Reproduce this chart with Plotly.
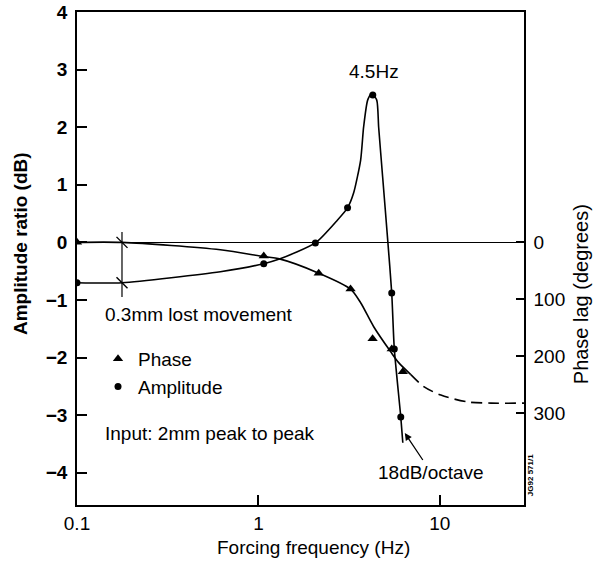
import numpy as np
import plotly.graph_objects as go

# ---------------- data ----------------
# measured points
amp_freq = [0.1, 1.07, 2.06, 3.1, 4.27, 5.43, 5.61, 6.09]          # Hz
amp_db = [-0.70, -0.37, -0.01, 0.60, 2.56, -0.88, -1.85, -3.03]      # dB

phase_freq = [0.1, 1.07, 2.15, 3.22, 4.26, 5.43, 6.25]               # Hz
phase_deg = [0, 24, 54, 82, 169, 187, 227]                           # degrees lag

# fitted curves
amp_curve_freq = [0.1, 0.177, 0.617, 1.07, 1.306, 2.06, 2.73, 3.1, 3.35, 3.66,
                  3.80, 4.00, 4.21, 4.49, 4.60, 4.84, 5.16, 5.43, 5.61, 6.09, 6.25]
amp_curve_db = [-0.70, -0.70, -0.51, -0.37, -0.29, -0.01, 0.39, 0.60, 0.86, 1.43,
                2.00, 2.47, 2.59, 2.47, 2.00, 1.13, 0.04, -0.88, -1.85, -3.03, -3.48]

phase_curve_freq = [0.1, 0.177, 0.617, 1.07, 1.306, 2.15, 3.22, 3.66, 4.32, 5.36, 5.93, 6.92]
phase_curve_deg = [0, 0, 13, 25, 29, 54, 82, 106, 148, 192, 211, 232]

phase_dash_freq = [6.92, 8.16, 10.13, 14.28, 19.13, 29.1]
phase_dash_deg = [232, 253, 268, 280, 282, 282]

# lost-movement marker
lost_freq = [0.177, 0.177]
lost_db = [0.18, -0.95]
lost_mark_freq = [0.177, 0.177]
lost_mark_db = [0.0, -0.70]

x_tickvals = [0.1, 1, 10]
x_ticktext = ["0.1", "1", "10"]
y_tickvals = [4, 3, 2, 1, 0, -1, -2, -3, -4]
y2_tickvals = [0, 100, 200, 300]

# ---------------- layout constants ----------------
FONT = "Liberation Sans, Arial, Helvetica, sans-serif"
Y1_RANGE = [-4.56, 4.0]
PX_PER_DB = 57.6
PX_PER_DEG = 0.57
Y2_RANGE = [-Y1_RANGE[0] * PX_PER_DB / PX_PER_DEG, -Y1_RANGE[1] * PX_PER_DB / PX_PER_DEG]
X_RANGE = [np.log10(0.1), np.log10(29.1)]

fig = go.Figure()

# curves
fig.add_trace(go.Scatter(x=amp_curve_freq, y=amp_curve_db, mode="lines",
                         line=dict(color="black", width=1.6, shape="spline", smoothing=0.6),
                         showlegend=False, hoverinfo="skip"))
fig.add_trace(go.Scatter(x=phase_curve_freq, y=phase_curve_deg, yaxis="y2", mode="lines",
                         line=dict(color="black", width=1.6, shape="spline", smoothing=0.8),
                         showlegend=False, hoverinfo="skip"))
fig.add_trace(go.Scatter(x=phase_dash_freq, y=phase_dash_deg, yaxis="y2", mode="lines",
                         line=dict(color="black", width=1.6, dash="11px,6px", shape="spline", smoothing=0.8),
                         showlegend=False, hoverinfo="skip"))
# lost movement indicator
fig.add_trace(go.Scatter(x=lost_freq, y=lost_db, mode="lines",
                         line=dict(color="black", width=1.2), showlegend=False, hoverinfo="skip"))
fig.add_trace(go.Scatter(x=lost_mark_freq, y=lost_mark_db, mode="markers",
                         marker=dict(symbol="line-nw", size=11, line=dict(color="black", width=1.4)),
                         showlegend=False, hoverinfo="skip"))

# measured points
fig.add_trace(go.Scatter(x=phase_freq, y=phase_deg, yaxis="y2", mode="markers", name="Phase",
                         marker=dict(symbol="triangle-up", size=9, color="black")))
fig.add_trace(go.Scatter(x=amp_freq, y=amp_db, mode="markers", name="Amplitude",
                         marker=dict(symbol="circle", size=7, color="black")))

ann = []
ann.append(dict(x=np.log10(4.32), y=2.96, xref="x", yref="y", text="4.5Hz", showarrow=False,
                xanchor="center", yanchor="middle", font=dict(size=19)))
ann.append(dict(x=0.0583, y=0.3854, xref="paper", yref="paper", text="0.3mm lost movement",
                xanchor="left", yanchor="middle", showarrow=False, font=dict(size=19)))
ann.append(dict(x=0.0583, y=0.146, xref="paper", yref="paper", text="Input: 2mm peak to peak",
                xanchor="left", yanchor="middle", showarrow=False, font=dict(size=19)))
ann.append(dict(x=np.log10(6.41), y=-3.31, xref="x", yref="y", text="18dB/octave",
                showarrow=True, ax=26, ay=39, arrowhead=2, arrowsize=1.1, arrowwidth=1.3,
                arrowcolor="black", font=dict(size=19)))
ann.append(dict(x=-0.128, y=0.531, xref="paper", yref="paper", text="<b>Amplitude ratio (dB)</b>",
                xanchor="center", yanchor="middle", textangle=-90, showarrow=False, font=dict(size=19)))
ann.append(dict(x=1.128, y=0.428, xref="paper", yref="paper", text="Phase lag (degrees)",
                xanchor="center", yanchor="middle", textangle=-90, showarrow=False, font=dict(size=20)))
ann.append(dict(x=0.529, y=-0.0852, xref="paper", yref="paper", text="Forcing frequency (Hz)",
                xanchor="center", yanchor="middle", showarrow=False, font=dict(size=19)))
ann.append(dict(x=1.016, y=0.0609, xref="paper", yref="paper", text="<b>JG92 571/1</b>",
                xanchor="center", yanchor="middle", textangle=-90, showarrow=False, font=dict(size=8)))

fig.update_layout(
    width=594, height=565,
    margin=dict(l=77, r=70, t=12, b=60, autoexpand=False),
    paper_bgcolor="white", plot_bgcolor="white",
    font=dict(family=FONT, color="black", size=19),
    annotations=ann,
    legend=dict(x=0.047, y=0.335, xanchor="left", yanchor="top", bgcolor="rgba(0,0,0,0)",
                itemwidth=30, tracegroupgap=0, font=dict(size=19)),
    xaxis=dict(type="log", range=X_RANGE, tickvals=x_tickvals, ticktext=x_ticktext,
               ticks="inside", ticklen=10, tickwidth=1.5, tickcolor="black",
               showline=True, linecolor="black", linewidth=1.8, mirror=True,
               showgrid=False, zeroline=False, tickfont=dict(size=19), automargin=False),
    yaxis=dict(range=Y1_RANGE, tickvals=y_tickvals, ticks="inside", ticklen=10, tickwidth=1.5,
               tickcolor="black", showline=True, linecolor="black", linewidth=1.8, mirror=True,
               showgrid=False, zeroline=True, zerolinecolor="black", zerolinewidth=1.2,
               tickfont=dict(size=19, weight="bold"), ticklabelstandoff=4, automargin=False,
               ticklabeloverflow="allow"),
    yaxis2=dict(range=Y2_RANGE, overlaying="y", side="right", tickvals=y2_tickvals,
                ticks="inside", ticklen=8, tickwidth=1.5, tickcolor="black",
                showline=True, linecolor="black", linewidth=1.5,
                showgrid=False, zeroline=False, tickfont=dict(size=19), ticklabelstandoff=4,
                automargin=False),
)

# remove the page's default 8px body margin so the figure sits at the window origin
fig.write_html("out.html", config={"displayModeBar": False},
               post_script="document.body.style.margin='0px';")
